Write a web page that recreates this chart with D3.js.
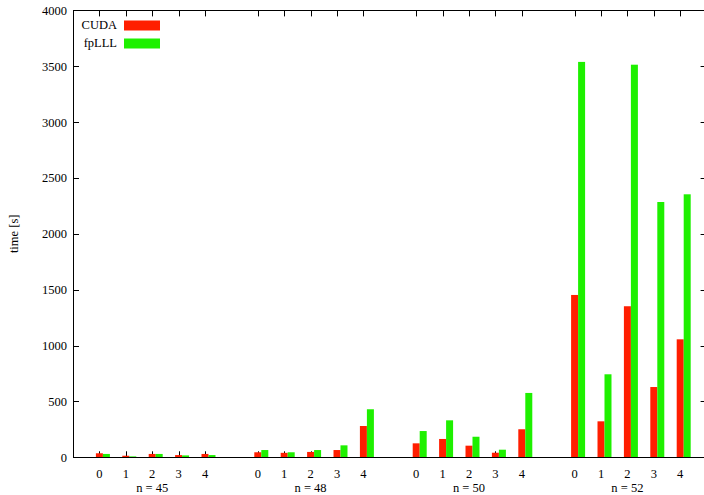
<!DOCTYPE html>
<html><head><meta charset="utf-8">
<script src="https://cdn.jsdelivr.net/npm/d3@7"></script>
<style>body{margin:0;background:#fff}svg{display:block}</style>
</head><body>
<script>
const groups = ["n = 45", "n = 48", "n = 50", "n = 52"];
const runs = ["0", "1", "2", "3", "4"];
const cuda  = [36, 14, 30, 20, 30,  45, 40, 48, 65, 280,  125, 164, 104, 41, 251,  1453, 322, 1352, 629, 1056];
const fplll = [30, 8, 30, 17, 20,  65, 45, 65, 107, 430,  235, 331, 184, 68, 576,  3539, 743, 3514, 2285, 2354];
const yTicks = [0, 500, 1000, 1500, 2000, 2500, 3000, 3500, 4000];
const seriesNames = ["CUDA", "fpLLL"];
const colors = ["#ff1e00", "#1ef000"];

const FONT = "'Liberation Serif', 'Times New Roman', Times, 'DejaVu Serif', serif";
const FS = 12.5;
const W = 704, H = 495;
const svg = d3.select("body").append("svg").attr("width", W).attr("height", H)
  .attr("font-family", FONT).style("font-family", FONT);
const x = d3.scaleLinear().domain([-1, 23]).range([73, 706.6]);
const y = d3.scaleLinear().domain([0, 4000]).range([457.3, 10.4]);
const bw = x(0.265) - x(0);

const rows = [];
groups.forEach((g, gi) => runs.forEach((r, ri) => {
  const k = gi * 5 + ri;
  rows.push({slot: gi * 6 + ri, label: r, vals: [cuda[k], fplll[k]]});
}));

// ticks (drawn behind bars)
const tk = svg.append("g").attr("stroke", "#000").attr("stroke-width", 1);
rows.forEach(d => {
  const xx = Math.round(x(d.slot)) + 0.5;
  tk.append("line").attr("x1", xx).attr("x2", xx).attr("y1", y(0)).attr("y2", y(0) - 6);
  tk.append("line").attr("x1", xx).attr("x2", xx).attr("y1", y(4000)).attr("y2", y(4000) + 6);
});
yTicks.forEach(v => {
  const yy = Math.round(y(v)) + 0.5;
  tk.append("line").attr("x1", x(-1)).attr("x2", x(-1) + 6).attr("y1", yy).attr("y2", yy);
  tk.append("line").attr("x1", x(23)).attr("x2", x(23) - 6).attr("y1", yy).attr("y2", yy);
});

// bars
rows.forEach(d => {
  d.vals.forEach((v, si) => {
    const x0 = x(d.slot) - bw / 2 + si * bw;
    svg.append("rect").attr("x", x0).attr("width", bw)
      .attr("y", y(v)).attr("height", y(0) - y(v)).attr("fill", colors[si]);
  });
});

// border
svg.append("path").attr("fill", "none").attr("stroke", "#000").attr("stroke-width", 1)
  .attr("d", `M${x(23)},${Math.round(y(4000))+0.5}H${Math.round(x(-1))+0.5}V${Math.round(y(0))+0.5}H${x(23)}`);

// y tick labels
svg.append("g").selectAll("text").data(yTicks).join("text")
  .attr("x", 67).attr("y", v => y(v)).attr("dy", "0.35em")
  .attr("text-anchor", "end").attr("font-size", FS).text(v => v);

// x tick labels
svg.append("g").selectAll("text").data(rows).join("text")
  .attr("x", d => x(d.slot)).attr("y", 474).attr("dy", "0.35em")
  .attr("text-anchor", "middle").attr("font-size", FS).text(d => d.label);

// group labels
svg.append("g").selectAll("text").data(groups).join("text")
  .attr("x", (g, i) => x(i * 6 + 2)).attr("y", 488).attr("dy", "0.35em")
  .attr("text-anchor", "middle").attr("font-size", FS).text(g => g);

// y axis title
svg.append("text").attr("transform", `translate(14,${(y(0) + y(4000)) / 2}) rotate(-90)`)
  .attr("text-anchor", "middle").attr("dy", "0.35em").attr("font-size", FS).text("time [s]");

// legend
seriesNames.forEach((n, i) => {
  const cy = 25 + i * 18;
  svg.append("text").attr("x", 117).attr("y", cy).attr("dy", "0.35em")
    .attr("text-anchor", "end").attr("font-size", FS).text(n);
  svg.append("rect").attr("x", 124).attr("y", cy - 4.5).attr("width", 36).attr("height", 10).attr("fill", colors[i]);
});
</script>
</body></html>
